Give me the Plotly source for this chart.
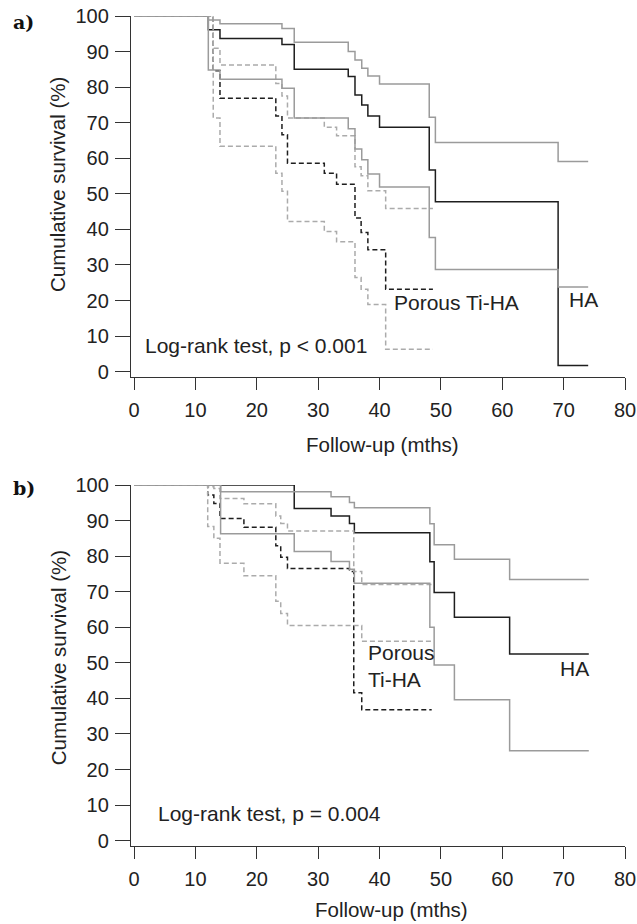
import plotly.graph_objects as go

# ---------------- Panel a data ----------------
a_ha_t = [0, 12.1, 14.0, 24.1, 26.1, 34.9, 36.0, 37.1, 38.1, 40.0, 48.1, 49.1, 69.1, 74.0]
a_ha_s = [100, 96.1, 93.7, 92.0, 85.0, 83.0, 77.8, 75.0, 71.9, 68.7, 56.7, 47.8, 1.7, 1.7]
a_ha_up = [100, 98.9, 97.8, 96.5, 92.6, 90.0, 87.6, 85.3, 83.1, 80.9, 71.5, 64.4, 59.1, 59.1]
a_ha_lo = [100, 84.8, 82.2, 79.7, 71.3, 68.3, 62.6, 59.6, 55.6, 51.9, 37.7, 28.7, 23.8, 23.8]

a_p_t = [0, 12.9, 14.0, 23.1, 24.1, 25.0, 31.0, 33.0, 36.0, 37.0, 38.1, 41.0, 48.7]
a_p_s = [100, 84.6, 76.9, 71.9, 66.6, 58.6, 55.8, 52.7, 43.2, 39.1, 34.3, 23.2, 23.2]
a_p_up = [100, 90.9, 86.2, 81.0, 77.5, 71.3, 68.7, 66.3, 57.6, 55.1, 50.9, 45.9, 45.9]
a_p_lo = [100, 71.3, 63.4, 55.8, 50.7, 42.2, 39.4, 36.5, 26.5, 23.2, 18.9, 6.3, 6.3]

# ---------------- Panel b data ----------------
b_ha_t = [0, 14.1, 26.1, 32.1, 35.1, 35.9, 48.2, 48.9, 52.2, 61.2, 74.1]
b_ha_s = [100, 100, 93.4, 91.3, 89.2, 86.6, 78.4, 69.8, 62.8, 52.5, 52.5]
b_ha_up = [100, 98.1, 98.1, 96.7, 95.1, 93.6, 89.1, 83.2, 79.1, 73.4, 73.4]
b_ha_lo = [100, 86.3, 81.3, 78.5, 76.3, 72.4, 60.0, 49.4, 39.6, 25.3, 25.3]

b_p_t = [0, 12.0, 13.0, 14.0, 17.9, 23.1, 23.9, 25.0, 35.1, 35.8, 37.1, 48.5]
b_p_s = [100, 97.2, 94.8, 90.6, 88.1, 82.9, 79.7, 76.5, 75.7, 41.6, 36.8, 36.8]
b_p_up = [100, 99.5, 99.0, 96.2, 94.7, 91.3, 89.2, 87.1, 87.1, 75.7, 72.0, 72.0]
b_p_lo = [100, 88.3, 85.0, 78.0, 74.5, 67.3, 63.9, 60.5, 60.5, 60.5, 56.1, 56.1]

x_ticks = [0, 10, 20, 30, 40, 50, 60, 70, 80]
y_ticks = [0, 10, 20, 30, 40, 50, 60, 70, 80, 90, 100]

BLACK = "#1e1e1e"
GRAY = "#9b9b9b"
GRAYD = "#ababab"
FONT = "Liberation Sans, Arial, sans-serif"

fig = go.Figure()


def step(t, s, color, dash, xa, ya, width=1.5):
    fig.add_trace(go.Scatter(
        x=t, y=s, mode="lines", line_shape="hv",
        line=dict(color=color, width=width, dash=dash),
        xaxis=xa, yaxis=ya, showlegend=False, hoverinfo="skip"))


# panel a (axes x/y)
step(a_ha_t, a_ha_s, BLACK, "solid", "x", "y")
step(a_p_t, a_p_s, BLACK, "5px,3px", "x", "y")
step(a_p_t, a_p_up, GRAYD, "5px,3px", "x", "y")
step(a_p_t, a_p_lo, GRAYD, "5px,3px", "x", "y")
step(a_ha_t, a_ha_up, GRAY, "solid", "x", "y")
step(a_ha_t, a_ha_lo, GRAY, "solid", "x", "y")

# panel b (axes x2/y2)
step(b_ha_t, b_ha_s, BLACK, "solid", "x2", "y2")
step(b_p_t, b_p_s, BLACK, "5px,3px", "x2", "y2")
step(b_p_t, b_p_up, GRAYD, "5px,3px", "x2", "y2")
step(b_p_t, b_p_lo, GRAYD, "5px,3px", "x2", "y2")
step(b_ha_t, b_ha_up, GRAY, "solid", "x2", "y2")
step(b_ha_t, b_ha_lo, GRAY, "solid", "x2", "y2")

top_px, bot_px = 16, 846
H = 924
plot_h = bot_px - top_px
panel_h = 361
dom_a = [1 - panel_h / plot_h, 1]
dom_b = [0, panel_h / plot_h]

xaxis_common = dict(
    range=[-0.5, 80], tickvals=x_ticks, ticks="outside", ticklen=12, tickwidth=1.3,
    tickcolor="#333", showline=True, linecolor="#333", linewidth=1.3,
    showgrid=False, zeroline=False, tickfont=dict(family=FONT, size=20, color="#222"),
    fixedrange=True, automargin=False, ticklabelstandoff=3,
)
yaxis_common = dict(
    range=[-1.5, 100], tickvals=y_ticks, ticks="outside", ticklen=15, tickwidth=1.3,
    tickcolor="#333", showline=True, linecolor="#333", linewidth=1.3,
    showgrid=False, zeroline=False, tickfont=dict(family=FONT, size=20, color="#222"),
    fixedrange=True, automargin=False, ticklabelstandoff=2,
)

fig.update_layout(
    template="none",
    width=637, height=H, autosize=False,
    margin=dict(l=131, r=12, t=top_px, b=H - bot_px, pad=0, autoexpand=False),
    plot_bgcolor="white", paper_bgcolor="white",
    xaxis=dict(domain=[0, 1], anchor="y", **xaxis_common),
    yaxis=dict(domain=dom_a, anchor="x", **yaxis_common),
    xaxis2=dict(domain=[0, 1], anchor="y2", **xaxis_common),
    yaxis2=dict(domain=dom_b, anchor="x2", **yaxis_common),
    font=dict(family=FONT, size=20, color="#222"),
)


def px_to_paper_y(py):
    return 1 - (py - top_px) / plot_h


def px_to_paper_x(px):
    return (px - 131) / 494


ann = []
txt = dict(family=FONT, size=21, color="#222")
ttl = dict(family=FONT, size=20.5, color="#222")
# panel labels
ann.append(dict(text="<b>a)</b>", xref="paper", yref="paper", x=px_to_paper_x(11), y=px_to_paper_y(22.5),
                xanchor="left", yanchor="middle", showarrow=False,
                font=dict(family="DejaVu Serif, serif", size=19, color="#111")))
ann.append(dict(text="<b>b)</b>", xref="paper", yref="paper", x=px_to_paper_x(11), y=px_to_paper_y(488),
                xanchor="left", yanchor="middle", showarrow=False,
                font=dict(family="DejaVu Serif, serif", size=19, color="#111")))
# y titles
ann.append(dict(text="Cumulative survival (%)", xref="paper", yref="y", x=px_to_paper_x(58), y=52.5,
                textangle=-90, xanchor="center", yanchor="middle", showarrow=False, font=ttl))
ann.append(dict(text="Cumulative survival (%)", xref="paper", yref="y2", x=px_to_paper_x(58), y=51.3,
                textangle=-90, xanchor="center", yanchor="middle", showarrow=False, font=ttl))
# x titles
ann.append(dict(text="Follow-up (mths)", xref="x", yref="paper", x=40.5, y=px_to_paper_y(444),
                xanchor="center", yanchor="middle", showarrow=False, font=ttl))
ann.append(dict(text="Follow-up (mths)", xref="x2", yref="paper", x=41.9, y=px_to_paper_y(909),
                xanchor="center", yanchor="middle", showarrow=False, font=ttl))
# panel a texts
ann.append(dict(text="Log-rank test, p < 0.001", xref="x", yref="y", x=1.5, y=7.3,
                xanchor="left", yanchor="middle", showarrow=False, font=txt))
ann.append(dict(text="Porous Ti-HA", xref="x", yref="y", x=42.0, y=19.5,
                xanchor="left", yanchor="middle", showarrow=False, font=txt))
ann.append(dict(text="HA", xref="x", yref="y", x=70.5, y=20.4,
                xanchor="left", yanchor="middle", showarrow=False, font=txt))
# panel b texts
ann.append(dict(text="Log-rank test, p = 0.004", xref="x2", yref="y2", x=3.5, y=7.7,
                xanchor="left", yanchor="middle", showarrow=False, font=txt))
ann.append(dict(text="Porous<br>Ti-HA", xref="x2", yref="y2", x=37.8, y=49.0,
                xanchor="left", yanchor="middle", align="left", showarrow=False, font=txt))
ann.append(dict(text="HA", xref="x2", yref="y2", x=69.1, y=48.5,
                xanchor="left", yanchor="middle", showarrow=False, font=txt))

fig.update_layout(annotations=ann)
fig.write_html("out.html", config={"displayModeBar": False},
               post_script="document.body.style.margin='0px';")
